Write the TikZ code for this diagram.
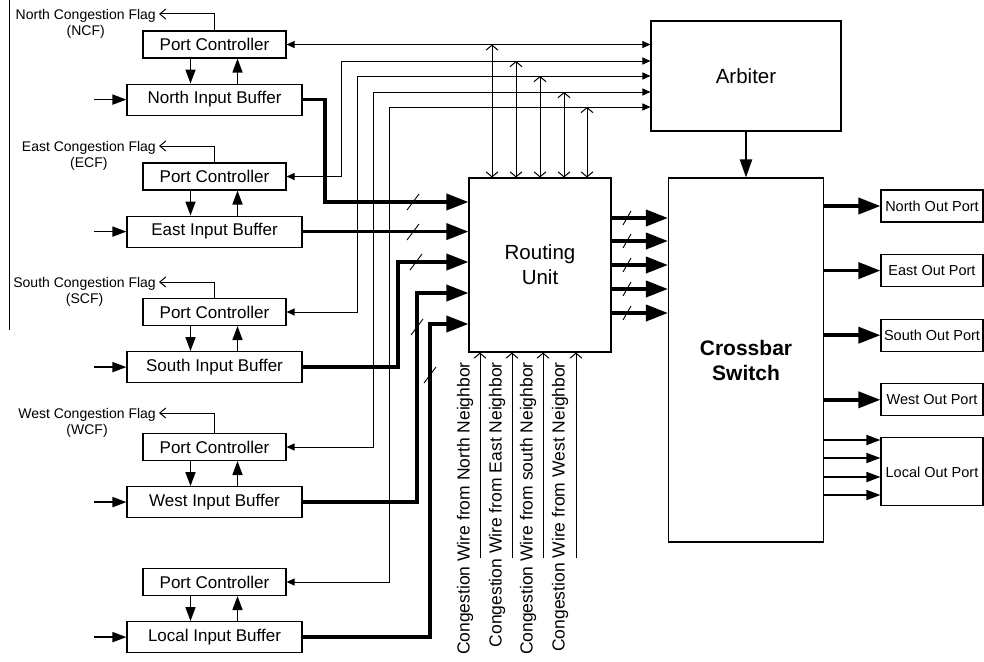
\documentclass[tikz,border=0pt]{standalone}
\usepackage{fontspec}
\setmainfont{Liberation Sans}
\usetikzlibrary{arrows.meta, positioning, calc}

\begin{document}
\begin{tikzpicture}[
		x=1pt, y=-1pt,
		% Estilos de bloques
		pc/.style = {draw, line width=1.1pt, rectangle, minimum width=143pt, minimum height=27pt, inner sep=0pt, font=\fontsize{17}{20}\selectfont},
		ibuf/.style = {pc, minimum width=175pt, minimum height=31pt},
		unit/.style = {draw, line width=1.1pt, rectangle, align=center, inner sep=0pt, font=\fontsize{20.5}{25}\selectfont},
		outport/.style = {draw, line width=1.1pt, rectangle, minimum width=102pt, minimum height=32pt, inner sep=0pt, font=\fontsize{14.5}{17}\selectfont},
		flag/.style = {align=center, inner sep=0pt, font=\fontsize{14}{16}\selectfont},
		wlabel/.style = {rotate=90, anchor=east, inner sep=0pt, font=\fontsize{17.5}{20}\selectfont},
		% Estilos de conexiones
		bus/.style = {line width=3.6pt, -{Triangle[length=22pt, width=16pt]}},
		med/.style = {line width=1.7pt, -{Triangle[length=14pt, width=10pt]}},
		ctrl/.style = {line width=1pt, {Triangle[length=8pt, width=7pt]}-{Triangle[length=8pt, width=7pt]}},
		barb/.style = {line width=1pt, {Straight Barb[length=5pt, width=12pt]}-{Straight Barb[length=5pt, width=12pt]}},
		flagline/.style = {line width=1pt, -{Straight Barb[length=6pt, width=10pt]}},
		wire/.style = {line width=1pt, -{Straight Barb[length=5pt, width=12pt]}},
		slash/.style = {line width=0.9pt}
		]
		
		\useasboundingbox (0,0) rectangle (984,661);
		\draw [line width=1pt] (9,0) -- (9,330);
		
		% --- PUERTOS DE ENTRADA ---
		\node [pc] (pcN) at (214.5,44.5) {Port Controller};
		\node [ibuf, below=25pt of pcN] (ibN) {North Input Buffer};
		\node [pc] (pcE) at (214.5,176.5) {Port Controller};
		\node [ibuf, below=25pt of pcE] (ibE) {East Input Buffer};
		\node [pc] (pcS) at (214.5,312) {Port Controller};
		\node [ibuf, below=25pt of pcS] (ibS) {South Input Buffer};
		\node [pc] (pcW) at (214.5,447) {Port Controller};
		\node [ibuf, below=25pt of pcW] (ibW) {West Input Buffer};
		\node [pc] (pcL) at (214.5,582) {Port Controller};
		\node [ibuf, below=25pt of pcL] (ibL) {Local Input Buffer};
		
		% Entradas
		\coordinate [left=32pt of ibN] (inN);
		\coordinate [left=32pt of ibE] (inE);
		\coordinate [left=32pt of ibS] (inS);
		\coordinate [left=32pt of ibW] (inW);
		\coordinate [left=32pt of ibL] (inL);
		\draw [med] (inN) -- (ibN);
		\draw [med] (inE) -- (ibE);
		\draw [med] (inS) -- (ibS);
		\draw [med] (inW) -- (ibW);
		\draw [med] (inL) -- (ibL);
		
		% Controlador <-> buffer
		\draw [med] ([xshift=-24pt]pcN.south) -- ([xshift=-24pt]ibN.north);
		\draw [med] ([xshift=23pt]ibN.north) -- ([xshift=23pt]pcN.south);
		\draw [med] ([xshift=-24pt]pcE.south) -- ([xshift=-24pt]ibE.north);
		\draw [med] ([xshift=23pt]ibE.north) -- ([xshift=23pt]pcE.south);
		\draw [med] ([xshift=-24pt]pcS.south) -- ([xshift=-24pt]ibS.north);
		\draw [med] ([xshift=23pt]ibS.north) -- ([xshift=23pt]pcS.south);
		\draw [med] ([xshift=-24pt]pcW.south) -- ([xshift=-24pt]ibW.north);
		\draw [med] ([xshift=23pt]ibW.north) -- ([xshift=23pt]pcW.south);
		\draw [med] ([xshift=-24pt]pcL.south) -- ([xshift=-24pt]ibL.north);
		\draw [med] ([xshift=23pt]ibL.north) -- ([xshift=23pt]pcL.south);
		
		% --- BANDERAS DE CONGESTION ---
		\coordinate (fN) at (159,14);
		\coordinate (fE) at (159,146);
		\coordinate (fS) at (159,282);
		\coordinate (fW) at (159,413);
		\draw [flagline] (pcN.north) |- (fN);
		\draw [flagline] (pcE.north) |- (fE);
		\draw [flagline] (pcS.north) |- (fS);
		\draw [flagline] (pcW.north) |- (fW);
		\node [flag, anchor=north east] (ncf) at (156,9) {North Congestion Flag\\(NCF)};
		\node [flag, anchor=north east] (ecf) at (156,141) {East Congestion Flag\\(ECF)};
		\node [flag, anchor=north east] (scf) at (156,277) {South Congestion Flag\\(SCF)};
		\node [flag, anchor=north east] (wcf) at (156,408) {West Congestion Flag\\(WCF)};
		
		% --- BLOQUES CENTRALES ---
		\node [unit, minimum width=190pt, minimum height=110pt] (arb) at (746,76) {Arbiter};
		\node [unit, minimum width=142pt, minimum height=174pt] (ru) at (540,265) {Routing\\Unit};
		\node [unit, minimum width=155pt, minimum height=364pt, font=\fontsize{21}{25}\selectfont\bfseries] (xb) at (746,360) {Crossbar\\Switch};
		\draw [med, line width=2.2pt, -{Triangle[length=18pt, width=12pt]}] (arb) -- (xb);
		
		% --- CONTROLADORES <-> ARBITRO ---
		\coordinate (cE) at (341,61);
		\coordinate (cS) at (357,76);
		\coordinate (cW) at (373,92);
		\coordinate (cL) at (389,107);
		\draw [ctrl] (pcN) -- (pcN -| arb.west);
		\draw [ctrl] (pcE) -| (cE) -- (cE -| arb.west);
		\draw [ctrl] (pcS) -| (cS) -- (cS -| arb.west);
		\draw [ctrl] (pcW) -| (cW) -- (cW -| arb.west);
		\draw [ctrl] (pcL) -| (cL) -- (cL -| arb.west);
		
		% Derivaciones hacia la unidad de ruteo
		\draw [barb] (pcN -| 492,0) -- (ru.north -| 492,0);
		\draw [barb] (cE -| 516,0) -- (ru.north -| 516,0);
		\draw [barb] (cS -| 540,0) -- (ru.north -| 540,0);
		\draw [barb] (cW -| 564,0) -- (ru.north -| 564,0);
		\draw [barb] (cL -| 587,0) -- (ru.north -| 587,0);
		
		% --- BUSES DE DATOS ---
		\draw [bus] (ibN) -| (325,202) -- (ru.west |- 0,202);
		\draw [bus] (ibE) -- (ru.west |- ibE);
		\draw [bus] (ibS) -| (398,262) -- (ru.west |- 0,262);
		\draw [bus] (ibW) -| (417,293) -- (ru.west |- 0,293);
		\draw [bus] (ibL) -| (430,324) -- (ru.west |- 0,324);
		\draw [slash] (413,202) ++(-6,8) -- ++(12,-16);
		\draw [slash] (413,232) ++(-6,8) -- ++(12,-16);
		\draw [slash] (416,262) ++(-6,8) -- ++(12,-16);
		\draw [slash] (417,327) ++(-6,8) -- ++(12,-16);
		\draw [slash] (430,375) ++(-6,8) -- ++(12,-16);
		
		\draw [bus] (ru.east |- 0,218) -- (xb.west |- 0,218);
		\draw [bus] (ru.east |- 0,241) -- (xb.west |- 0,241);
		\draw [bus] (ru.east |- 0,265) -- (xb.west |- 0,265);
		\draw [bus] (ru.east |- 0,289) -- (xb.west |- 0,289);
		\draw [bus] (ru.east |- 0,313) -- (xb.west |- 0,313);
		\draw [slash] (627,218) ++(-4,7) -- ++(8,-14);
		\draw [slash] (627,241) ++(-4,7) -- ++(8,-14);
		\draw [slash] (627,265) ++(-4,7) -- ++(8,-14);
		\draw [slash] (627,289) ++(-4,7) -- ++(8,-14);
		\draw [slash] (627,313) ++(-4,7) -- ++(8,-14);
		
		% --- PUERTOS DE SALIDA ---
		\node [outport] (opN) at (932,206) {North Out Port};
		\node [outport, below=31.5pt of opN] (opE) {East Out Port};
		\node [outport, below=31.5pt of opE] (opS) {South Out Port};
		\node [outport, below=31.5pt of opS] (opW) {West Out Port};
		\node [outport, minimum height=68pt, below=21pt of opW] (opL) {Local Out Port};
		\draw [bus] (xb.east |- opN) -- (opN);
		\draw [bus] (xb.east |- opE) -- (opE);
		\draw [bus] (xb.east |- opS) -- (opS);
		\draw [bus] (xb.east |- opW) -- (opW);
		\draw [med] (xb.east |- 0,440) -- (opL.west |- 0,440);
		\draw [med] (xb.east |- 0,458) -- (opL.west |- 0,458);
		\draw [med] (xb.east |- 0,477) -- (opL.west |- 0,477);
		\draw [med] (xb.east |- 0,495) -- (opL.west |- 0,495);
		
		% --- CABLES DE CONGESTION DE VECINOS ---
		\coordinate (w1) at (480,558);
		\coordinate (w2) at (512,558);
		\coordinate (w3) at (543,558);
		\coordinate (w4) at (576,558);
		\draw [wire] (w1) -- (w1 |- ru.south);
		\draw [wire] (w2) -- (w2 |- ru.south);
		\draw [wire] (w3) -- (w3 |- ru.south);
		\draw [wire] (w4) -- (w4 |- ru.south);
		\node [wlabel] (lw1) at (465,362) {Congestion Wire from North Neighbor};
		\node [wlabel] (lw2) at (497,362) {Congestion Wire from East Neighbor};
		\node [wlabel] (lw3) at (528,362) {Congestion Wire from south Neighbor};
		\node [wlabel] (lw4) at (560,362) {Congestion Wire from West Neighbor};
		
	\end{tikzpicture}
\end{document}
